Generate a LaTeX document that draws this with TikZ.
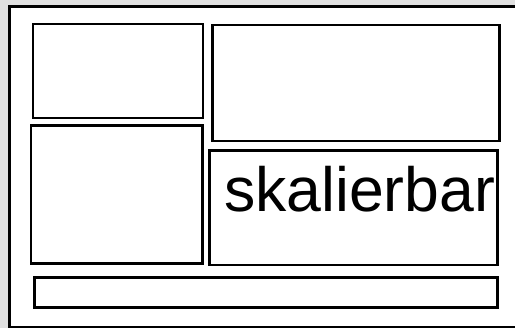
\documentclass[tikz,border=0pt]{standalone}
\usepackage{fontspec}
\setmainfont{Liberation Sans}
\begin{document}
\begin{tikzpicture}[x=1pt,y=-1pt,
  box/.style={draw=black,line width=2.8pt,fill=white,inner sep=0pt,outer sep=0pt},
  lbl/.style={inner sep=0pt,outer sep=0pt,font=\fontsize{62.5}{62.5}\selectfont}]
\useasboundingbox (0,0) rectangle (515,328);
\clip (0,0) rectangle (515,328);
\fill[gray!24] (0,0) rectangle (515,328);
\node[box,minimum width=510pt,minimum height=321pt,anchor=north west] (outer) at (9.8,6.5) {};
\node[box,minimum width=170pt,minimum height=94pt] (b1) at (117.9,71) {};
\node[box,minimum width=287pt,minimum height=116pt] (b2) at (356,83) {};
\node[box,minimum width=171.5pt,minimum height=138.5pt] (b3) at (116.8,194.5) {};
\node[box,minimum width=288pt,minimum height=114.5pt] (b4) at (353.7,207.8) {};
\node[box,minimum width=463pt,minimum height=29.5pt] (b5) at (265.8,292.5) {};
\node[lbl,anchor=base west] (t) at (224,211.7) {skalierbar};
\end{tikzpicture}
\end{document}
